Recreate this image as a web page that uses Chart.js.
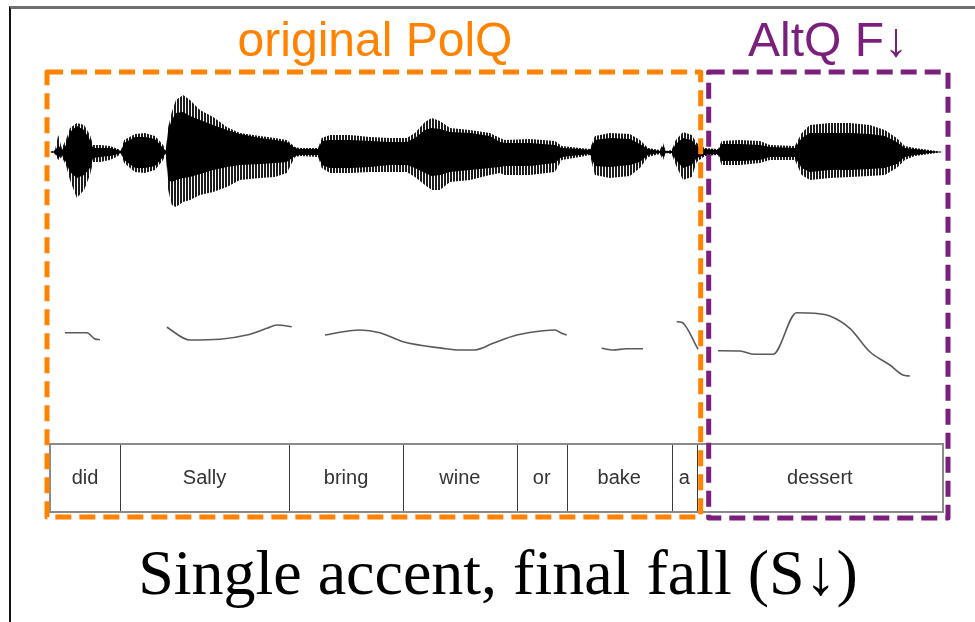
<!DOCTYPE html>
<html>
<head>
<meta charset="utf-8">
<script src="https://cdn.jsdelivr.net/npm/chart.js@4.4.1/dist/chart.umd.min.js"></script>
<style>
  html, body { margin: 0; padding: 0; background: #fff; }
  #wrap { position: relative; width: 975px; height: 622px; overflow: hidden; }
  #frame { position: absolute; left: 9px; top: 6px; width: 966px; height: 613px;
           border-top: 3px solid #707070; border-left: 2px solid #111; border-bottom: 1px solid #d0d0d0; }
  canvas { position: absolute; left: 0; top: 0; }
  .head { position: absolute; font-family: "Liberation Sans", Arial, sans-serif; font-size: 48px;
          line-height: 48px; text-align: center; white-space: nowrap; }
  #polq { left: 175px; width: 400px; top: 16px; color: #ff8200; }
  #altq { left: 678px; width: 300px; top: 16px; color: #7a1f7c; }
  #caption { position: absolute; left: 98px; width: 800px; top: 541px; text-align: center;
             font-family: "Liberation Serif", "Times New Roman", serif; font-size: 64px; line-height: 64px;
             color: #000; white-space: nowrap; }
</style>
</head>
<body>
<div id="wrap">
  <div id="frame"></div>
  <canvas id="c" width="975" height="622"></canvas>
  <div class="head" id="polq">original PolQ</div>
  <div class="head" id="altq">AltQ F↓</div>
  <div id="caption">Single accent, final fall (S↓)</div>
</div>
<script>
// Time axis in milliseconds
const waveTime = [0, 11, 18, 26, 35, 44, 59, 75, 88, 95, 110, 132, 150, 156, 163, 187, 209, 231, 249, 255,
  260, 268, 277, 293, 308, 330, 359, 389, 418, 462, 495, 521, 539, 550, 590, 598, 616, 660, 704, 748,
  785, 803, 825, 840, 858, 880, 924, 968, 990, 1001, 1056, 1111, 1126, 1166, 1188, 1199, 1232, 1276, 1298, 1316,
  1342, 1349, 1355, 1368, 1377, 1393, 1412, 1423, 1441, 1470, 1478, 1518, 1562, 1584, 1639, 1654, 1672, 1716, 1760, 1804,
  1837, 1863, 1881, 1903, 1936, 1965];

// Waveform amplitude envelopes (peak extremes and dense core), arbitrary units
const outerUpper = [0, 2, 17, 4, 12, 24, 29, 27, 17, 7, 7, 6, 3, 1, 12, 18, 19, 16, 7, 1,
  25, 40, 52, 57, 52, 42, 35, 25, 19, 16, 14, 12, 5, 4, 4, 14, 17, 17, 15, 14,
  14, 19, 30, 34, 31, 24, 22, 19, 14, 12, 13, 11, 6, 4, 3, 16, 19, 18, 12, 4,
  2, 9, 1, 2, 12, 20, 17, 9, 4, 3, 11, 12, 11, 7, 6, 19, 27, 29, 29, 27,
  22, 14, 6, 4, 2, 0];
const outerLower = [0, -2, -8, -5, -13, -28, -46, -38, -23, -10, -10, -8, -4, -1, -11, -20, -21, -18, -8, -1,
  -38, -53, -55, -50, -48, -43, -40, -35, -28, -26, -25, -21, -5, -4, -5, -16, -21, -21, -20, -20,
  -20, -25, -33, -38, -38, -30, -28, -23, -21, -23, -23, -20, -8, -5, -3, -23, -26, -24, -16, -5,
  -2, -8, -1, -2, -13, -28, -25, -10, -4, -3, -13, -13, -11, -8, -8, -23, -28, -26, -25, -24,
  -23, -16, -8, -4, -2, 0];
const coreUpper = [0, 1, 7, 2, 7, 20, 26, 22, 12, 4, 4, 4, 2, 1, 9, 15, 15, 13, 4, 1,
  22, 32, 39, 40, 36, 32, 27, 22, 18, 14, 12, 10, 4, 3, 3, 11, 12, 12, 11, 10,
  10, 14, 22, 24, 23, 20, 19, 16, 10, 9, 9, 7, 4, 3, 2, 12, 14, 13, 8, 3,
  1, 6, 1, 1, 8, 14, 12, 6, 3, 2, 8, 8, 7, 5, 4, 14, 19, 19, 19, 18,
  16, 10, 4, 3, 1, 0];
const coreLower = [0, -1, -6, -3, -10, -20, -26, -23, -16, -6, -5, -4, -2, -1, -8, -16, -16, -14, -5, -1,
  -28, -30, -28, -26, -25, -22, -18, -15, -13, -12, -11, -10, -4, -3, -3, -13, -16, -16, -15, -13,
  -13, -16, -21, -24, -23, -20, -18, -16, -15, -14, -14, -11, -5, -3, -2, -14, -15, -13, -10, -3,
  -1, -5, -1, -1, -8, -16, -13, -6, -3, -2, -9, -9, -8, -5, -5, -16, -20, -18, -18, -17,
  -16, -12, -5, -3, -1, 0];

// F0 track (Hz); null marks unvoiced stretches
const pitchTime = [33, 81, 99, 110, 180,
  257, 308, 374, 433, 477, 499, 532, 570,
  605, 660, 682, 726, 777, 865, 902, 935, 975, 1027, 1085, 1111, 1126, 1137, 1170,
  1214, 1239, 1269, 1305, 1340,
  1379, 1390, 1426, 1450,
  1470, 1518, 1551, 1591, 1643, 1683, 1716, 1760, 1804, 1848, 1877, 1892];
const pitchHz = [173.7, 173.7, 169.5, 169.0, null,
  177.3, 168.8, 169.3, 172.1, 176.6, 178.9, 177.7, null,
  172.1, 175.0, 175.5, 173.7, 167.6, 163.2, 162.1, 162.1, 166.6, 172.1, 175.0, 175.5, 173.3, 172.1, null,
  163.2, 162.1, 162.9, 162.9, null,
  181.1, 180.7, 162.6, null,
  161.6, 161.4, 159.2, 159.2, 187.1, 186.7, 184.9, 176.6, 160.9, 152.0, 145.3, 144.6];

// Word tier
const wordLabels = ["did", "Sally", "bring", "wine", "or", "bake", "a", "dessert"];
const wordBounds = [0, 154, 526, 777, 1027, 1137, 1368, 1423, 1965];

const pts = (xs, ys) => xs.map((x, i) => ({ x: x, y: ys[i] }));

const canvas = document.getElementById('c');
const ctx0 = canvas.getContext('2d');

// striated fill for the outer part of the waveform (glottal pulses)
function stripePattern() {
  const t = document.createElement('canvas');
  t.width = 3; t.height = 1;
  const g = t.getContext('2d');
  g.fillStyle = '#ffffff'; g.fillRect(0, 0, 3, 1);
  g.fillStyle = '#1c1c1c'; g.fillRect(0, 0, 2, 1);
  return ctx0.createPattern(t, 'repeat');
}

const tierPlugin = {
  id: 'tier',
  afterDatasetsDraw(chart) {
    const ctx = chart.ctx, x = chart.scales.x;
    const xs = wordBounds.map(v => x.getPixelForValue(v));
    const top = 444, bot = 512;
    ctx.save();
    ctx.fillStyle = '#fff';
    ctx.fillRect(xs[0], top, xs[xs.length - 1] - xs[0], bot - top);
    ctx.strokeStyle = '#3a3a3a'; ctx.lineWidth = 1;
    for (let i = 1; i < xs.length - 1; i++) {
      const px = Math.round(xs[i]) + 0.5;
      ctx.beginPath(); ctx.moveTo(px, top); ctx.lineTo(px, bot); ctx.stroke();
    }
    ctx.strokeStyle = '#8a8a8a'; ctx.lineWidth = 2;
    ctx.strokeRect(xs[0], top, xs[xs.length - 1] - xs[0], bot - top);
    ctx.fillStyle = '#333';
    ctx.font = '20px "Liberation Sans", Arial, sans-serif';
    ctx.textAlign = 'center'; ctx.textBaseline = 'middle';
    wordLabels.forEach((w, i) => ctx.fillText(w, (xs[i] + xs[i + 1]) / 2, 478));
    ctx.restore();
  }
};

const boxPlugin = {
  id: 'boxes',
  afterDraw(chart) {
    const ctx = chart.ctx, x = chart.scales.x, a = chart.chartArea;
    const xs = wordBounds.map(v => x.getPixelForValue(v));
    const top = a.top + 2, bot = a.bottom;
    ctx.save();
    ctx.lineWidth = 5;
    ctx.lineJoin = 'round';
    ctx.setLineDash([16, 8]);
    ctx.strokeStyle = '#ff8200';
    ctx.strokeRect(xs[0] - 3, top, (xs[7] + 4) - (xs[0] - 3), bot - top);
    ctx.strokeStyle = '#7a1f7c';
    ctx.strokeRect(xs[7] + 12, top, (xs[8] + 5) - (xs[7] + 12), bot - top + 1);
    ctx.restore();
  }
};

new Chart(canvas, {
  type: 'line',
  data: {
    datasets: [
      { data: pts(waveTime, outerUpper), yAxisID: 'yW', fill: '+1', backgroundColor: stripePattern(),
        borderWidth: 0, pointRadius: 0, order: 3 },
      { data: pts(waveTime, outerLower), yAxisID: 'yW', fill: false, borderWidth: 0, pointRadius: 0, order: 3 },
      { data: pts(waveTime, coreUpper), yAxisID: 'yW', fill: '+1', backgroundColor: '#000',
        borderWidth: 0, pointRadius: 0, order: 2 },
      { data: pts(waveTime, coreLower), yAxisID: 'yW', fill: false, borderWidth: 0, pointRadius: 0, order: 2 },
      { data: pts(pitchTime, pitchHz), yAxisID: 'yP', fill: false, borderColor: '#5a5a5a', borderWidth: 1.6,
        pointRadius: 0, spanGaps: false, cubicInterpolationMode: 'monotone', order: 1 }
    ]
  },
  options: {
    responsive: false,
    animation: false,
    events: [],
    layout: { padding: { left: 50, right: 32, top: 70, bottom: 105 } },
    plugins: { legend: { display: false }, tooltip: { enabled: false }, title: { display: false } },
    scales: {
      x: { type: 'linear', min: 0, max: 1965, display: false },
      yW: { type: 'linear', min: -365, max: 82, display: false },
      yP: { type: 'linear', min: 50, max: 350, display: false }
    }
  },
  plugins: [tierPlugin, boxPlugin]
});
</script>
</body>
</html>
